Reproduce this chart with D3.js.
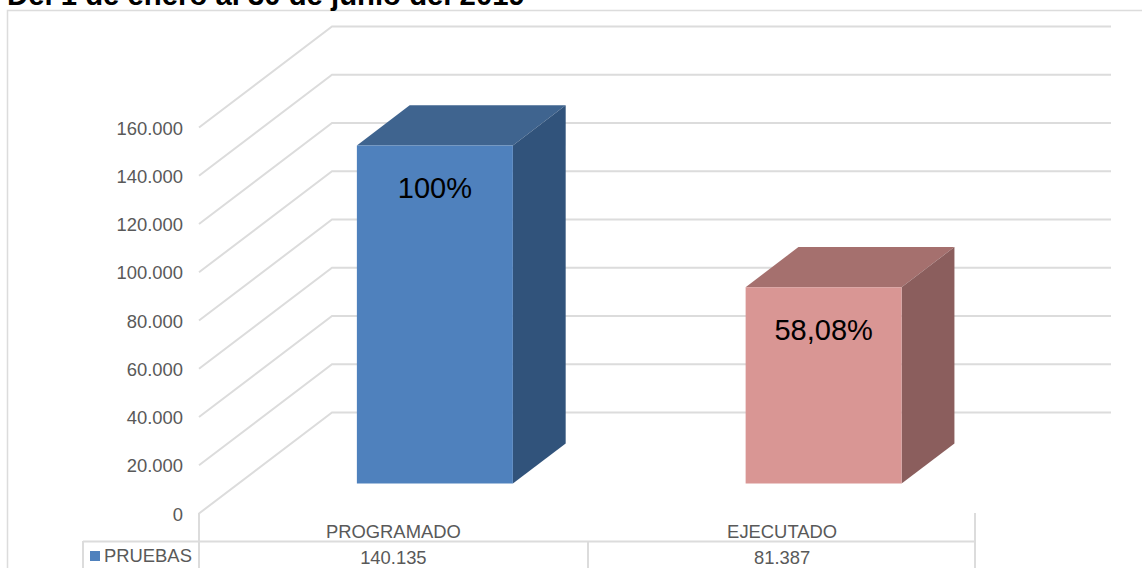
<!DOCTYPE html>
<html><head><meta charset="utf-8">
<script src="https://cdnjs.cloudflare.com/ajax/libs/d3/7.8.5/d3.min.js"></script>
<style>html,body{margin:0;padding:0;background:#fff}svg{display:block}text{font-family:"Liberation Sans",Arial,sans-serif}</style>
</head><body><svg id="c" width="1142" height="568"></svg>
<script>
const titleText = "Del 1 de enero al 30 de junio del 2019";
const categories = ["PROGRAMADO","EJECUTADO"];
const seriesName = "PRUEBAS";
const values = [140135,81387];
const valueLabels = ["140.135","81.387"];
const barLabels = ["100%","58,08%"];
const ticks = [0,20000,40000,60000,80000,100000,120000,140000,160000];
const tickLabels = ["0","20.000","40.000","60.000","80.000","100.000","120.000","140.000","160.000"];
const frontColors = ["#4f81bd","#d99694"];
const topColors = ["#3f648f","#a5706e"];
const sideColors = ["#31537b","#8b5e5d"];

const svg = d3.select("#c");
const grid = "#dcdcdc";
const y = d3.scaleLinear().domain([0,160000]).range([513.5,127.5]);
const x = d3.scaleBand().domain(categories).range([199,976.5]);
const wall = {dx:133, dy:-101};
const bandW = x.bandwidth();
const barW = 156, plane = 0.297, depth = 0.397;
const barX = c => x(c) + (bandW-barW)/2 + 2 + wall.dx*plane;

svg.append("rect").attr("x",7.5).attr("y",10.5).attr("width",1150).attr("height",580).attr("fill","#fff").attr("stroke",grid).attr("stroke-width",1.5);
svg.append("text").attr("x",7).attr("y",5).attr("font-size",29.3).attr("font-weight","bold").attr("fill","#000").text(titleText);

const g = svg.append("g").attr("stroke",grid).attr("stroke-width",2).attr("fill","none");
ticks.forEach(t=>{
  g.append("path").attr("d",d3.line()([[199,y(t)],[199+wall.dx,y(t)+wall.dy],[1111,y(t)+wall.dy]]));
});
svg.append("g").selectAll("text").data(ticks).join("text")
  .attr("x",183).attr("y",d=>y(d)+7).attr("text-anchor","end").attr("font-size",18.4).attr("fill","#595959")
  .text((d,i)=>tickLabels[i]);

values.forEach((v,i)=>{
  const c = categories[i];
  const x0 = barX(c), x1 = x0+barW, yb = y(0)+wall.dy*plane, yt = y(v)+wall.dy*plane;
  const ddx = wall.dx*depth, ddy = wall.dy*depth;
  const poly = (pts,f)=>svg.append("polygon").attr("points",pts.map(p=>p.join(",")).join(" ")).attr("fill",f);
  poly([[x0,yt],[x1,yt],[x1+ddx,yt+ddy],[x0+ddx,yt+ddy]],topColors[i]);
  poly([[x1,yt],[x1+ddx,yt+ddy],[x1+ddx,yb+ddy],[x1,yb]],sideColors[i]);
  poly([[x0,yt],[x1,yt],[x1,yb],[x0,yb]],frontColors[i]);
  svg.append("text").attr("x",(x0+x1)/2).attr("y",yt+53).attr("text-anchor","middle").attr("font-size",29).attr("fill","#000").text(barLabels[i]);
});

const t = svg.append("g").attr("stroke",grid).attr("stroke-width",2);
t.append("line").attr("x1",83).attr("x2",975).attr("y1",541.5).attr("y2",541.5);
[[199,513],[588,541],[975,513],[83,541]].forEach(([a,b])=>t.append("line").attr("x1",a).attr("x2",a).attr("y1",b).attr("y2",568));
categories.forEach((c,i)=>{
  svg.append("text").attr("x",x(c)+bandW/2).attr("y",538).attr("text-anchor","middle").attr("font-size",18.4).attr("fill","#595959").text(c);
  svg.append("text").attr("x",x(c)+bandW/2).attr("y",563.5).attr("text-anchor","middle").attr("font-size",18.4).attr("fill","#595959").text(valueLabels[i]);
});
svg.append("rect").attr("x",90).attr("y",551).attr("width",10).attr("height",10).attr("fill",frontColors[0]);
svg.append("text").attr("x",104).attr("y",562).attr("font-size",18.4).attr("fill","#595959").text(seriesName);
</script></body></html>
